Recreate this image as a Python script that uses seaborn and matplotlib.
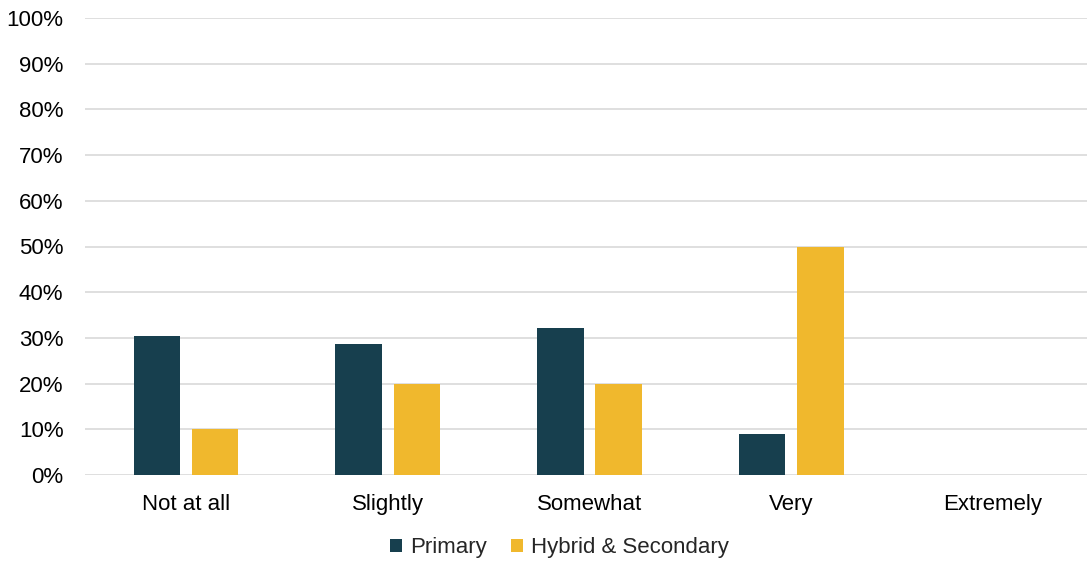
import matplotlib
matplotlib.use("Agg")
import matplotlib.pyplot as plt
import seaborn as sns
import pandas as pd
from matplotlib.ticker import FuncFormatter

categories = ["Not at all", "Slightly", "Somewhat", "Very", "Extremely"]
primary = [30.4, 28.6, 32.1, 8.9, 0.0]
hybrid_secondary = [10.0, 20.0, 20.0, 50.0, 0.0]
series_names = ["Primary", "Hybrid & Secondary"]
colors = ["#173F4E", "#F0B82D"]

df = pd.DataFrame({
    "category": categories * 2,
    "value": primary + hybrid_secondary,
    "group": [series_names[0]] * len(categories) + [series_names[1]] * len(categories),
})

sns.set_theme(style="white")
plt.rcParams["font.family"] = ["Liberation Sans", "DejaVu Sans"]

fig = plt.figure(figsize=(10.87, 5.62), dpi=100)
ax = fig.add_axes([85 / 1087, 1 - 475 / 562, 1009 / 1087, (475 - 18) / 562])

sns.barplot(data=df, x="category", y="value", hue="group", order=categories,
            hue_order=series_names, palette=colors, width=0.575, gap=0.2,
            saturation=1, ax=ax, legend=True, edgecolor="none")

ax.set_ylim(0, 100)
ax.set_xlim(-0.5, len(categories) - 0.5)
ax.set_yticks(range(0, 101, 10))
ax.yaxis.set_major_formatter(FuncFormatter(lambda v, _: f"{int(v)}%"))
ax.grid(axis="y", color="#D9D9D9", linewidth=1.2)
ax.set_axisbelow(True)
for s in ax.spines.values():
    s.set_visible(False)
ax.set_xlabel("")
ax.set_ylabel("")
ax.tick_params(axis="both", length=0, labelsize=16, colors="#000000")
ax.tick_params(axis="y", pad=15.5)
ax.tick_params(axis="x", pad=14)

handles, labels = ax.get_legend_handles_labels()
ax.legend_.remove()
fig.legend(handles, labels, loc="center", bbox_to_anchor=(559.5 / 1087, 1 - 548 / 562),
           ncol=2, frameon=False, fontsize=16, handlelength=0.55, handleheight=0.55,
           handletextpad=0.35, columnspacing=1.1)

fig.savefig("out.png", dpi=100)
